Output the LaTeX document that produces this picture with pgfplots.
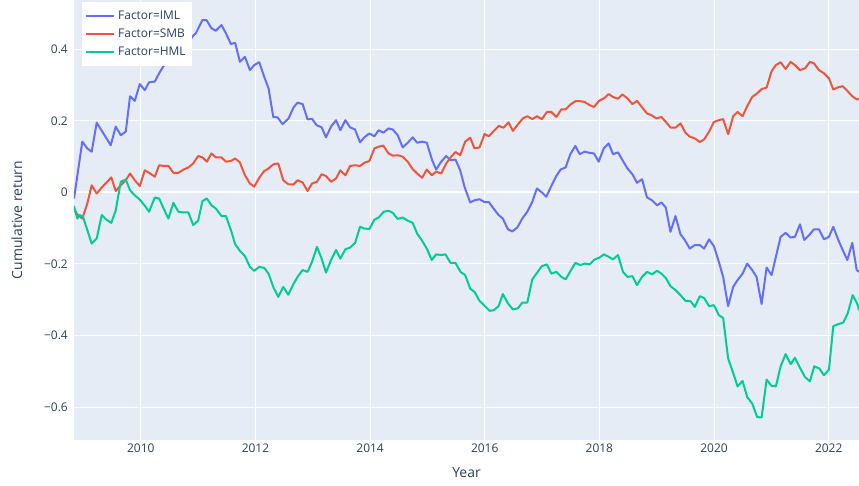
\documentclass[border=0pt]{standalone}
\usepackage{fontspec}
\setmainfont{Open Sans}
\usepackage{pgfplots}
\pgfplotsset{compat=1.18}
\definecolor{plotbg}{HTML}{E5ECF6}
\definecolor{plotfont}{HTML}{2A3F5F}
\definecolor{cIML}{HTML}{636EFA}
\definecolor{cSMB}{HTML}{EF553B}
\definecolor{cHML}{HTML}{00CC96}
\begin{document}
\begin{tikzpicture}
\path[use as bounding box] (-74bp,-46bp) rectangle (785bp,440bp);
\begin{axis}[
  at={(0,0)}, anchor=south west,
  scale only axis, width=785bp, height=440bp,
  xmin=2008.835, xmax=2022.529, ymin=-0.692, ymax=0.538,
  axis background/.style={fill=plotbg},
  axis line style={draw=none},
  major tick length=0pt,
  grid=major, grid style={white, line width=1bp},
  xtick={2010,2012,2014,2016,2018,2020,2022},
  xticklabels={2010,2012,2014,2016,2018,2020,2022},
  ytick={-0.6,-0.4,-0.2,0.2,0.4},
  yticklabels={−0.6,−0.4,−0.2,0.2,0.4},
  extra y ticks={0}, extra y tick labels={0},
  extra y tick style={grid style={white, line width=2bp}},
  ticklabel style={text=plotfont, font=\fontsize{12}{14}\selectfont},
  xticklabel style={anchor=base, inner sep=0pt, yshift=-12bp},
  yticklabel style={anchor=east, inner sep=0pt, xshift=-6bp},
  xlabel={Year}, ylabel={Cumulative return},
  label style={text=plotfont, font=\fontsize{14}{16}\selectfont},
  xlabel style={at={(axis description cs:0.5,-0.0730)}, anchor=center},
  ylabel style={at={(axis description cs:-0.0726,0.5)}, anchor=center},
  legend style={at={(axis description cs:0.0102,0.995)}, anchor=north west,
    draw=none, fill=white, text=plotfont, font=\fontsize{12}{14}\selectfont,
    inner xsep=3bp, inner ysep=5bp,
    nodes={inner xsep=3bp, inner ysep=3bp, text height=9bp, text depth=3bp},
    row sep=0bp},
  legend cell align=left,
  legend image code/.code={\draw[#1] (0bp,0bp) -- (28bp,0bp);},
  every axis plot/.append style={line width=2bp, line join=round},
]
\addplot[cIML] coordinates {
(2008.835,-0.017) (2008.980,0.142) (2009.067,0.123) (2009.144,0.114) (2009.231,0.195) (2009.476,0.132) (2009.563,0.184) (2009.651,0.160) (2009.738,0.170) (2009.813,0.269) (2009.895,0.256) (2009.983,0.303) (2010.070,0.286) (2010.145,0.308) (2010.245,0.310) (2010.320,0.333) (2010.407,0.356) (2010.482,0.358) (2010.569,0.375) (2010.657,0.392) (2010.744,0.405) (2010.831,0.420) (2010.914,0.438) (2010.961,0.445) (2011.076,0.482) (2011.146,0.482) (2011.233,0.459) (2011.310,0.452) (2011.408,0.468) (2011.485,0.445) (2011.572,0.415) (2011.647,0.418) (2011.729,0.365) (2011.817,0.379) (2011.904,0.342) (2011.979,0.356) (2012.066,0.364) (2012.154,0.323) (2012.229,0.291) (2012.311,0.211) (2012.386,0.210) (2012.473,0.191) (2012.578,0.207) (2012.666,0.238) (2012.735,0.251) (2012.823,0.247) (2012.910,0.204) (2012.987,0.206) (2013.067,0.188) (2013.155,0.182) (2013.231,0.154) (2013.319,0.184) (2013.406,0.202) (2013.481,0.174) (2013.569,0.202) (2013.651,0.182) (2013.738,0.176) (2013.825,0.140) (2013.900,0.154) (2013.988,0.165) (2014.075,0.157) (2014.150,0.174) (2014.232,0.167) (2014.320,0.179) (2014.395,0.176) (2014.482,0.160) (2014.569,0.126) (2014.657,0.139) (2014.744,0.154) (2014.821,0.139) (2014.908,0.142) (2014.989,0.139) (2015.083,0.090) (2015.153,0.064) (2015.240,0.086) (2015.328,0.102) (2015.403,0.090) (2015.490,0.092) (2015.572,0.062) (2015.647,0.016) (2015.747,-0.028) (2015.822,-0.022) (2015.909,-0.019) (2015.997,-0.027) (2016.072,-0.027) (2016.154,-0.045) (2016.241,-0.063) (2016.316,-0.073) (2016.404,-0.103) (2016.480,-0.109) (2016.568,-0.098) (2016.655,-0.073) (2016.742,-0.054) (2016.830,-0.026) (2016.910,0.011) (2016.997,0.000) (2017.074,-0.012) (2017.162,0.018) (2017.249,0.046) (2017.324,0.064) (2017.411,0.070) (2017.493,0.107) (2017.581,0.130) (2017.656,0.107) (2017.743,0.114) (2017.818,0.111) (2017.906,0.109) (2017.988,0.086) (2018.075,0.123) (2018.162,0.137) (2018.238,0.107) (2018.325,0.112) (2018.412,0.088) (2018.489,0.067) (2018.576,0.051) (2018.657,0.027) (2018.744,0.037) (2018.831,-0.014) (2018.918,-0.022) (2019.006,-0.036) (2019.083,-0.028) (2019.158,-0.042) (2019.240,-0.110) (2019.328,-0.066) (2019.415,-0.117) (2019.490,-0.133) (2019.577,-0.157) (2019.665,-0.147) (2019.752,-0.147) (2019.827,-0.157) (2019.914,-0.131) (2019.997,-0.150) (2020.084,-0.194) (2020.159,-0.236) (2020.246,-0.318) (2020.334,-0.264) (2020.410,-0.245) (2020.498,-0.227) (2020.578,-0.199) (2020.666,-0.217) (2020.742,-0.236) (2020.830,-0.312) (2020.917,-0.210) (2021.004,-0.231) (2021.079,-0.180) (2021.162,-0.124) (2021.249,-0.113) (2021.336,-0.126) (2021.412,-0.124) (2021.499,-0.089) (2021.574,-0.133) (2021.661,-0.119) (2021.743,-0.103) (2021.830,-0.103) (2021.918,-0.131) (2022.005,-0.124) (2022.080,-0.096) (2022.168,-0.133) (2022.245,-0.161) (2022.325,-0.189) (2022.412,-0.141) (2022.489,-0.217) (2022.529,-0.222)
};
\addlegendentry{Factor=IML}
\addplot[cSMB] coordinates {
(2008.835,-0.048) (2008.893,-0.061) (2008.980,-0.073) (2009.067,-0.031) (2009.144,0.020) (2009.231,-0.003) (2009.319,0.014) (2009.399,0.027) (2009.486,0.042) (2009.563,0.004) (2009.651,0.020) (2009.738,0.034) (2009.813,0.053) (2009.895,0.034) (2009.983,0.018) (2010.070,0.062) (2010.145,0.055) (2010.245,0.044) (2010.320,0.076) (2010.407,0.074) (2010.482,0.074) (2010.569,0.055) (2010.657,0.055) (2010.744,0.064) (2010.831,0.070) (2010.914,0.081) (2011.001,0.102) (2011.076,0.098) (2011.153,0.086) (2011.233,0.109) (2011.310,0.098) (2011.408,0.098) (2011.485,0.086) (2011.572,0.088) (2011.647,0.095) (2011.729,0.084) (2011.817,0.048) (2011.904,0.025) (2011.979,0.016) (2012.066,0.041) (2012.154,0.060) (2012.229,0.067) (2012.316,0.079) (2012.398,0.081) (2012.486,0.034) (2012.573,0.023) (2012.660,0.022) (2012.735,0.034) (2012.823,0.028) (2012.910,0.004) (2012.987,0.025) (2013.074,0.030) (2013.155,0.051) (2013.231,0.046) (2013.319,0.030) (2013.406,0.039) (2013.481,0.062) (2013.569,0.048) (2013.651,0.074) (2013.738,0.076) (2013.825,0.074) (2013.900,0.083) (2013.988,0.088) (2014.075,0.123) (2014.150,0.128) (2014.232,0.131) (2014.320,0.109) (2014.395,0.103) (2014.482,0.104) (2014.569,0.100) (2014.657,0.086) (2014.744,0.065) (2014.821,0.053) (2014.908,0.041) (2014.989,0.064) (2015.076,0.048) (2015.153,0.058) (2015.240,0.053) (2015.328,0.081) (2015.415,0.100) (2015.490,0.113) (2015.572,0.104) (2015.659,0.142) (2015.747,0.153) (2015.822,0.123) (2015.909,0.126) (2015.997,0.163) (2016.072,0.157) (2016.159,0.172) (2016.247,0.186) (2016.328,0.181) (2016.416,0.196) (2016.491,0.172) (2016.578,0.190) (2016.666,0.207) (2016.742,0.213) (2016.830,0.205) (2016.910,0.213) (2016.997,0.205) (2017.085,0.225) (2017.162,0.225) (2017.249,0.211) (2017.336,0.232) (2017.411,0.232) (2017.498,0.246) (2017.581,0.255) (2017.668,0.255) (2017.743,0.253) (2017.830,0.244) (2017.906,0.239) (2017.993,0.256) (2018.080,0.263) (2018.162,0.275) (2018.238,0.267) (2018.325,0.262) (2018.402,0.274) (2018.489,0.263) (2018.576,0.247) (2018.657,0.256) (2018.744,0.238) (2018.831,0.221) (2018.908,0.216) (2018.996,0.207) (2019.083,0.211) (2019.170,0.195) (2019.245,0.181) (2019.328,0.181) (2019.415,0.193) (2019.502,0.167) (2019.577,0.156) (2019.665,0.151) (2019.752,0.141) (2019.827,0.148) (2019.914,0.170) (2019.997,0.197) (2020.084,0.202) (2020.159,0.205) (2020.246,0.163) (2020.334,0.213) (2020.410,0.225) (2020.498,0.213) (2020.578,0.241) (2020.666,0.267) (2020.753,0.277) (2020.830,0.289) (2020.917,0.293) (2021.004,0.339) (2021.079,0.356) (2021.162,0.364) (2021.249,0.345) (2021.336,0.365) (2021.412,0.356) (2021.499,0.342) (2021.586,0.347) (2021.673,0.365) (2021.743,0.361) (2021.830,0.342) (2021.918,0.333) (2022.005,0.319) (2022.080,0.288) (2022.168,0.294) (2022.245,0.297) (2022.325,0.284) (2022.412,0.269) (2022.489,0.260) (2022.529,0.261)
};
\addlegendentry{Factor=SMB}
\addplot[cHML] coordinates {
(2008.835,-0.038) (2008.893,-0.073) (2008.934,-0.063) (2008.992,-0.068) (2009.067,-0.105) (2009.144,-0.143) (2009.231,-0.129) (2009.319,-0.063) (2009.399,-0.076) (2009.486,-0.085) (2009.563,-0.050) (2009.651,0.030) (2009.738,0.036) (2009.813,0.006) (2009.895,-0.008) (2009.983,-0.020) (2010.070,-0.037) (2010.145,-0.054) (2010.245,-0.014) (2010.320,-0.017) (2010.407,-0.048) (2010.482,-0.073) (2010.569,-0.029) (2010.657,-0.054) (2010.744,-0.056) (2010.831,-0.056) (2010.914,-0.091) (2011.001,-0.079) (2011.076,-0.024) (2011.153,-0.017) (2011.233,-0.036) (2011.310,-0.045) (2011.408,-0.066) (2011.485,-0.066) (2011.572,-0.105) (2011.647,-0.145) (2011.729,-0.163) (2011.817,-0.178) (2011.904,-0.208) (2011.979,-0.219) (2012.066,-0.208) (2012.154,-0.211) (2012.229,-0.227) (2012.316,-0.266) (2012.398,-0.292) (2012.486,-0.264) (2012.573,-0.286) (2012.660,-0.257) (2012.735,-0.236) (2012.823,-0.217) (2012.910,-0.222) (2012.987,-0.194) (2013.074,-0.152) (2013.155,-0.185) (2013.231,-0.224) (2013.319,-0.189) (2013.406,-0.161) (2013.481,-0.185) (2013.569,-0.159) (2013.651,-0.154) (2013.738,-0.141) (2013.825,-0.096) (2013.900,-0.101) (2013.988,-0.102) (2014.075,-0.076) (2014.150,-0.070) (2014.238,-0.054) (2014.320,-0.051) (2014.395,-0.057) (2014.482,-0.074) (2014.569,-0.070) (2014.657,-0.079) (2014.744,-0.085) (2014.821,-0.115) (2014.908,-0.135) (2014.989,-0.157) (2015.076,-0.189) (2015.153,-0.173) (2015.240,-0.175) (2015.315,-0.173) (2015.403,-0.197) (2015.490,-0.197) (2015.577,-0.222) (2015.659,-0.231) (2015.747,-0.269) (2015.822,-0.278) (2015.909,-0.303) (2015.997,-0.317) (2016.084,-0.331) (2016.159,-0.329) (2016.241,-0.318) (2016.316,-0.284) (2016.404,-0.310) (2016.491,-0.327) (2016.578,-0.324) (2016.655,-0.308) (2016.742,-0.308) (2016.830,-0.243) (2016.910,-0.225) (2016.997,-0.206) (2017.085,-0.201) (2017.162,-0.227) (2017.249,-0.222) (2017.336,-0.236) (2017.411,-0.243) (2017.498,-0.219) (2017.581,-0.197) (2017.668,-0.203) (2017.743,-0.199) (2017.830,-0.201) (2017.918,-0.187) (2017.993,-0.183) (2018.080,-0.173) (2018.162,-0.180) (2018.238,-0.187) (2018.325,-0.175) (2018.412,-0.222) (2018.489,-0.236) (2018.576,-0.234) (2018.657,-0.259) (2018.744,-0.236) (2018.831,-0.222) (2018.918,-0.229) (2019.006,-0.219) (2019.083,-0.227) (2019.158,-0.239) (2019.240,-0.262) (2019.328,-0.273) (2019.415,-0.287) (2019.502,-0.303) (2019.590,-0.304) (2019.665,-0.320) (2019.752,-0.290) (2019.827,-0.295) (2019.914,-0.318) (2019.997,-0.315) (2020.084,-0.343) (2020.159,-0.351) (2020.246,-0.464) (2020.334,-0.505) (2020.410,-0.542) (2020.498,-0.527) (2020.578,-0.572) (2020.666,-0.590) (2020.753,-0.628) (2020.830,-0.629) (2020.917,-0.523) (2021.004,-0.541) (2021.079,-0.542) (2021.162,-0.486) (2021.249,-0.452) (2021.336,-0.480) (2021.412,-0.462) (2021.499,-0.490) (2021.586,-0.516) (2021.673,-0.528) (2021.748,-0.486) (2021.836,-0.492) (2021.918,-0.511) (2022.005,-0.495) (2022.080,-0.374) (2022.168,-0.368) (2022.255,-0.364) (2022.332,-0.338) (2022.419,-0.287) (2022.500,-0.312) (2022.529,-0.329)
};
\addlegendentry{Factor=HML}
\end{axis}
\end{tikzpicture}
\end{document}
